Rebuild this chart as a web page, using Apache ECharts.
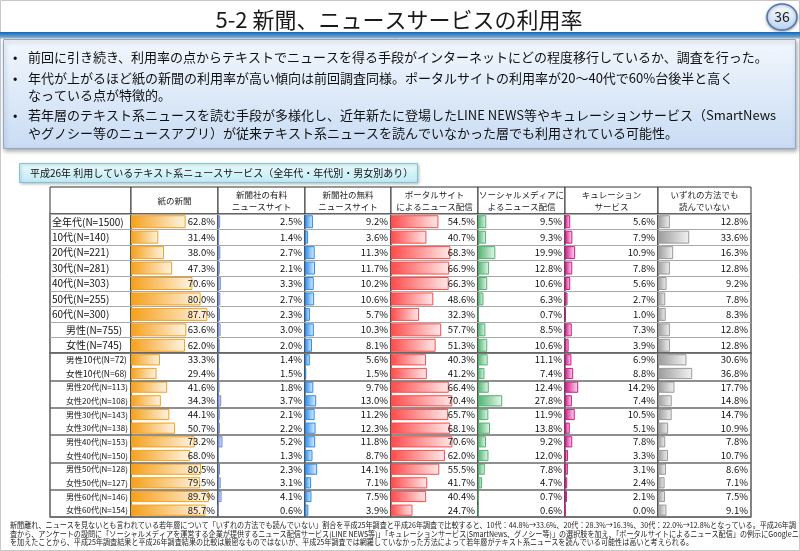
<!DOCTYPE html>
<html><head><meta charset="utf-8">
<script src="https://cdn.jsdelivr.net/npm/echarts@6/dist/echarts.min.js"></script>
<style>html,body{margin:0;padding:0;background:#fff}#c{width:800px;height:551px}</style>
</head><body><div id="c"></div>
<script>
// ---------- DATA ----------
const rowLabels = [
  '全年代(N=1500)', '10代(N=140)', '20代(N=221)', '30代(N=281)', '40代(N=303)',
  '50代(N=255)', '60代(N=300)', '男性(N=755)', '女性(N=745)',
  '男性10代(N=72)', '女性10代(N=68)', '男性20代(N=113)', '女性20代(N=108)',
  '男性30代(N=143)', '女性30代(N=138)', '男性40代(N=153)', '女性40代(N=150)',
  '男性50代(N=128)', '女性50代(N=127)', '男性60代(N=146)', '女性60代(N=154)'
];
const topRowCount = 9;
const columnHeaders = [
  '紙の新聞', '新聞社の有料\nニュースサイト', '新聞社の無料\nニュースサイト',
  'ポータルサイト\nによるニュース配信', 'ソーシャルメディアに\nよるニュース配信',
  'キュレーション\nサービス', 'いずれの方法でも\n読んでいない'
];
const paperNews   = [62.8,31.4,38.0,47.3,70.6,80.0,87.7,63.6,62.0,33.3,29.4,41.6,34.3,44.1,50.7,73.2,68.0,80.5,79.5,89.7,85.7];
const paidSites   = [2.5,1.4,2.7,2.1,3.3,2.7,2.3,3.0,2.0,1.4,1.5,1.8,3.7,2.1,2.2,5.2,1.3,2.3,3.1,4.1,0.6];
const freeSites   = [9.2,3.6,11.3,11.7,10.2,10.6,5.7,10.3,8.1,5.6,1.5,9.7,13.0,11.2,12.3,11.8,8.7,14.1,7.1,7.5,3.9];
const portalSites = [54.5,40.7,68.3,66.9,66.3,48.6,32.3,57.7,51.3,40.3,41.2,66.4,70.4,65.7,68.1,70.6,62.0,55.5,41.7,40.4,24.7];
const socialMedia = [9.5,9.3,19.9,12.8,10.6,6.3,0.7,8.5,10.6,11.1,7.4,12.4,27.8,11.9,13.8,9.2,12.0,7.8,4.7,0.7,0.6];
const curation    = [5.6,7.9,10.9,7.8,5.6,2.7,1.0,7.3,3.9,6.9,8.8,14.2,7.4,10.5,5.1,7.8,3.3,3.1,2.4,2.1,0.0];
const noneOfThese = [12.8,33.6,16.3,12.8,9.2,7.8,8.3,12.8,12.8,30.6,36.8,17.7,14.8,14.7,10.9,7.8,10.7,8.6,7.1,7.5,9.1];

const bulletLines = [
  {bullet:true,  text:'前回に引き続き、利用率の点からテキストでニュースを得る手段がインターネットにどの程度移行しているか、調査を行った。'},
  {bullet:true,  text:'年代が上がるほど紙の新聞の利用率が高い傾向は前回調査同様。ポータルサイトの利用率が20～40代で60%台後半と高く'},
  {bullet:false, text:'なっている点が特徴的。'},
  {bullet:true,  text:'若年層のテキスト系ニュースを読む手段が多様化し、近年新たに登場したLINE NEWS等やキュレーションサービス（SmartNews'},
  {bullet:false, text:'やグノシー等のニュースアプリ）が従来テキスト系ニュースを読んでいなかった層でも利用されている可能性。'}
];
const footnoteLines = [
  '新聞離れ、ニュースを見ないとも言われている若年層について「いずれの方法でも読んでいない」割合を平成25年調査と平成26年調査で比較すると、10代：44.8%→33.6%、20代：28.3%→16.3%、30代：22.0%→12.8%となっている。平成26年調',
  '査から、アンケートの設問に「ソーシャルメディアを運営する企業が提供するニュース配信サービス(LINE NEWS等)」「キュレーションサービス(SmartNews、グノシー等)」の選択肢を加え、「ポータルサイトによるニュース配信」の例示にGoogleニュース',
  'を加えたことから、平成25年調査結果と平成26年調査結果の比較は厳密なものではないが、平成25年調査では網羅していなかった方法によって若年層がテキスト系ニュースを読んでいる可能性は高いと考えられる。'
];
const titleText = '5-2 新聞、ニュースサービスの利用率';
const pageNumber = '36';
const tagText = '平成26年 利用しているテキスト系ニュースサービス（全年代・年代別・男女別あり）';

// ---------- LAYOUT / STYLE ----------
const FONT = "'Noto Sans CJK JP','Noto Sans',sans-serif";
const columns = [paperNews, paidSites, freeSites, portalSites, socialMedia, curation, noneOfThese];
const barColors = ['#F5A01A','#7290D4','#2C8CEB','#FF4A4A','#4FB46F','#D3168A','#9A9A9A'];
const colEdges = [50,131,218,305,391,478,565,658,751];
const headerTop = 187, headerBottom = 214;
const blocks = [
  {top:214, bottom:353, start:0, end:topRowCount},
  {top:353, bottom:517, start:topRowCount, end:rowLabels.length}
];

function fade(hex){
  const r=parseInt(hex.slice(1,3),16), g=parseInt(hex.slice(3,5),16), b=parseInt(hex.slice(5,7),16);
  const m=v=>Math.round(v+(255-v)*0.88);
  return `rgb(${m(r)},${m(g)},${m(b)})`;
}

const grids=[], xAxes=[], yAxes=[], series=[];
// header grids
for (let c=0;c<8;c++){
  const gi=grids.length;
  grids.push({left:colEdges[c], width:colEdges[c+1]-colEdges[c], top:headerTop, height:headerBottom-headerTop,
    show:true, borderColor:'#333', borderWidth:1, backgroundColor:'#fff', containLabel:false});
  xAxes.push({gridIndex:gi, type:'value', min:0, max:100, position:'bottom',
    name: c===0 ? '' : columnHeaders[c-1], nameLocation:'middle', nameGap:-13.5,
    nameTextStyle:{fontFamily:FONT, fontSize:8.5, color:'#222', lineHeight:12, verticalAlign:'middle', align:'center'},
    axisLine:{show:false}, axisTick:{show:false}, axisLabel:{show:false}, splitLine:{show:false}});
  yAxes.push({gridIndex:gi, type:'value', show:false});
}
// body grids
blocks.forEach((b,bi)=>{
  const labels = rowLabels.slice(b.start,b.end);
  const split = bi===0
    ? {show:true, interval:0, lineStyle:{color:'#a8a8a8', width:1}}
    : {show:true, interval:(i)=> i%2===0, lineStyle:{color:'#6a6a6a', width:1.5}};
  for (let c=0;c<8;c++){
    const gi=grids.length;
    grids.push({left:colEdges[c], width:colEdges[c+1]-colEdges[c], top:b.top, height:b.bottom-b.top,
      show:true, borderColor:'#333', borderWidth:1.2, backgroundColor:'#fff'});
    xAxes.push({gridIndex:gi, type:'value', min:0, max:100, show:false});
    if (c===0){
      yAxes.push({gridIndex:gi, type:'category', data:labels, inverse:true, position:'left',
        axisLine:{show:false}, axisTick:{show:false}, splitLine:split,
        axisLabel:{inside:true, margin:2, interval:0, align:'left',
          formatter:(v,i)=>{
            const gIdx=b.start+i;
            if (bi===0) return gIdx>=7 ? `{ind|${v}}` : `{top|${v}}`;
            return gIdx<=10 ? `{b10|${v}}` : `{bot|${v}}`;
          },
          rich:{
            top:{fontFamily:FONT, fontSize:10, color:'#111'},
            ind:{fontFamily:FONT, fontSize:10, color:'#111', padding:[0,0,0,14]},
            b10:{fontFamily:FONT, fontSize:8.5, color:'#111', padding:[0,0,0,14]},
            bot:{fontFamily:FONT, fontSize:8, color:'#111', padding:[0,0,0,14]}
          }}});
    } else {
      const vals = columns[c-1].slice(b.start,b.end);
      const col = barColors[c-1];
      yAxes.push({gridIndex:gi, type:'category', data:labels, inverse:true, position:'right', z:10,
        axisLine:{show:false}, axisTick:{show:false}, splitLine:split,
        axisLabel:{inside:true, margin:3, interval:0, fontFamily:FONT, fontSize:9.5, color:'#111',
          formatter:(v,i)=> vals[i].toFixed(1)+'%'}});
      series.push({type:'bar', xAxisIndex:gi, yAxisIndex:gi, data:vals, z:2,
        barCategoryGap: bi===0 ? '16%' : '18%', silent:true, animation:false,
        itemStyle:{color:new echarts.graphic.LinearGradient(0,0,1,0,[{offset:0,color:col},{offset:1,color:fade(col)}]),
          borderColor:col, borderWidth:1}});
    }
  }
});

// measure helper for footnote squeeze
const mctx = document.createElement('canvas').getContext('2d');
function measure(text,font){ mctx.font=font; return mctx.measureText(text).width; }
const footFont = `8px ${FONT}`;
const footScale = 786 / measure(footnoteLines[0], footFont);

const graphics = [
  {type:'rect', shape:{x:0.5,y:0.5,width:799,height:550}, style:{fill:'none', stroke:'#c8c8c8', lineWidth:1}, z:0},
  {type:'text', x:399, y:20, style:{text:titleText, font:`22px ${FONT}`, fill:'#1a1a1a', textAlign:'center', textVerticalAlign:'middle'}},
  {type:'ellipse', shape:{cx:782, cy:17, rx:15, ry:13},
    style:{fill:new echarts.graphic.LinearGradient(0,0,0,1,[{offset:0,color:'#ffffff'},{offset:1,color:'#b9d3ef'}]),
      stroke:'#4a78b0', lineWidth:1.5, shadowBlur:3, shadowColor:'rgba(0,0,0,0.35)', shadowOffsetY:1}},
  {type:'text', x:782, y:17, style:{text:pageNumber, font:`14px ${FONT}`, fill:'#222', textAlign:'center', textVerticalAlign:'middle'}},
  {type:'rect', shape:{x:0,y:32,width:800,height:5},
    style:{fill:new echarts.graphic.LinearGradient(0,0,0,1,[{offset:0,color:'#1766b0'},{offset:1,color:'#5aa6e6'}])}},
  {type:'rect', shape:{x:0,y:37,width:800,height:1.5}, style:{fill:'#a8a8a8'}},
  {type:'rect', shape:{x:3.5,y:39.5,width:792,height:109},
    style:{fill:new echarts.graphic.LinearGradient(0,0,0,1,[{offset:0,color:'#f2f7fd'},{offset:1,color:'#c9dcf4'}]),
      stroke:'#8aa9cf', lineWidth:1, shadowBlur:4, shadowColor:'rgba(0,0,0,0.3)', shadowOffsetX:1, shadowOffsetY:2}},
  {type:'rect', shape:{x:19.5,y:163.5,width:398,height:19},
    style:{fill:new echarts.graphic.LinearGradient(0,0,0,1,[{offset:0,color:'#eafafd'},{offset:1,color:'#bfeaf4'}]),
      stroke:'#7cc6d8', lineWidth:1, shadowBlur:3, shadowColor:'rgba(0,0,0,0.25)', shadowOffsetX:1, shadowOffsetY:1}},
  {type:'text', x:30, y:173.5, style:{text:tagText, font:`10px ${FONT}`, fill:'#111', textVerticalAlign:'middle'}}
];
const bulletY = [57, 78.5, 95, 115.5, 133];
bulletLines.forEach((l,i)=>{
  if (l.bullet) graphics.push({type:'text', x:13, y:bulletY[i], style:{text:'•', font:`13px ${FONT}`, fill:'#111', textVerticalAlign:'middle'}});
  graphics.push({type:'text', x:28, y:bulletY[i], style:{text:l.text, font:`13px ${FONT}`, fill:'#111', textVerticalAlign:'middle'}});
});
const footY = [525, 533.5, 542];
footnoteLines.forEach((t,i)=>{
  graphics.push({type:'text', x:10, y:footY[i], scaleX:footScale, style:{text:t, font:footFont, fill:'#222', textVerticalAlign:'middle'}});
});

const chart = echarts.init(document.getElementById('c'), null, {renderer:'canvas'});
chart.setOption({
  animation:false,
  backgroundColor:'#fff',
  grid:grids, xAxis:xAxes, yAxis:yAxes, series:series,
  graphic:{elements:graphics}
});
</script></body></html>
